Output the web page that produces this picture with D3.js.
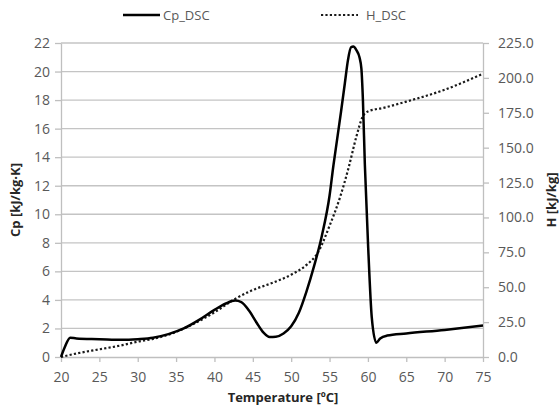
<!DOCTYPE html>
<html>
<head>
<meta charset="utf-8">
<script src="https://cdn.jsdelivr.net/npm/d3@7"></script>
<style>
  body { margin: 0; background: #fff; }
  svg text { font-family: "Open Sans", "Noto Sans", sans-serif; fill: #595959; }
  .axis-title { font-weight: bold; fill: #262626; }
</style>
</head>
<body>
<div id="chart"></div>
<script>
// temperature (ºC) and specific heat Cp (kJ/kg·K)
var cpTemp = [20, 20.5, 21.2, 22, 25, 28, 30, 32, 34, 36, 38, 40, 41.5, 42.7, 43.5, 44.5, 45.5, 46.4, 47.2, 48, 49, 50, 51, 52, 53, 54, 55, 55.5, 56, 56.5, 57, 57.4, 57.8, 58.1, 58.5, 58.9, 59.15, 59.35, 59.6, 60.05, 60.5, 61.1, 61.6, 62.5, 65, 70, 75];
var cpVals = [0, 0.7, 1.35, 1.3, 1.25, 1.2, 1.25, 1.35, 1.6, 2.0, 2.6, 3.3, 3.75, 3.95, 3.85, 3.25, 2.4, 1.7, 1.4, 1.42, 1.65, 2.15, 3.1, 4.6, 6.4, 8.5, 11.3, 13.4, 15.3, 17.2, 19.2, 20.8, 21.7, 21.75, 21.5, 21.0, 20.2, 18.0, 13.5, 7.5, 2.8, 1.0, 1.3, 1.5, 1.65, 1.9, 2.2];

// temperature (ºC) and enthalpy H (kJ/kg)
var hTemp = [20, 22, 25, 28, 30, 32, 35, 37, 40, 42.5, 45, 47.5, 50, 52, 53.5, 55, 56.4, 57.5, 58.5, 59.3, 60, 62, 65, 70, 75];
var hVals = [0, 2.5, 5.5, 8.5, 11, 13, 18, 23, 32, 41, 48, 53, 59, 66, 75, 94, 115, 136, 158, 172, 176, 178.5, 183, 191.5, 203];

var xTicks = [20, 25, 30, 35, 40, 45, 50, 55, 60, 65, 70, 75];
var cpTicks = [0, 2, 4, 6, 8, 10, 12, 14, 16, 18, 20, 22];
var hTicks = [0, 25, 50, 75, 100, 125, 150, 175, 200, 225];

var width = 559, height = 408;
var margin = { top: 43, right: 76, bottom: 51, left: 61 };
var w = width - margin.left - margin.right;
var h = height - margin.top - margin.bottom;

var svg = d3.select("#chart").append("svg")
    .attr("width", width)
    .attr("height", height);
var vis = svg.append("g")
    .attr("transform", "translate(" + margin.left + "," + margin.top + ")");

var x = d3.scaleLinear().domain([20, 75]).range([0, w]);
var yL = d3.scaleLinear().domain([0, 22]).range([h, 0]);
var yR = d3.scaleLinear().domain([0, 225]).range([h, 0]);

// gridlines
vis.append("g").selectAll("line")
    .data(cpTicks.slice(1))
    .enter().append("line")
    .attr("x1", 0).attr("x2", w)
    .attr("y1", function(d) { return yL(d); })
    .attr("y2", function(d) { return yL(d); })
    .attr("stroke", "#c4c4c4")
    .attr("stroke-width", 1.3);

function styleAxis(g) {
    g.selectAll("path, line").attr("stroke", "#bfbfbf").attr("stroke-width", 1.3);
    g.selectAll("text").style("font-size", "14px").attr("fill", "#595959");
}

var xAxis = vis.append("g")
    .attr("transform", "translate(0," + h + ")")
    .call(d3.axisBottom(x).tickValues(xTicks).tickSize(5).tickSizeOuter(0).tickPadding(10));
styleAxis(xAxis);

var leftAxis = vis.append("g")
    .call(d3.axisLeft(yL).tickValues(cpTicks).tickSize(6).tickSizeOuter(0).tickPadding(5));
styleAxis(leftAxis);

var rightAxis = vis.append("g")
    .attr("transform", "translate(" + w + ",0)")
    .call(d3.axisRight(yR).tickValues(hTicks).tickFormat(d3.format(".1f")).tickSize(6).tickSizeOuter(0).tickPadding(9));
styleAxis(rightAxis);

// series
var cpData = cpTemp.map(function(t, i) { return [t, cpVals[i]]; });
var hData = hTemp.map(function(t, i) { return [t, hVals[i]]; });

vis.append("path")
    .datum(hData)
    .attr("fill", "none")
    .attr("stroke", "#1a1a1a")
    .attr("stroke-width", 2.2)
    .attr("stroke-dasharray", "2.2,2.2")
    .attr("d", d3.line()
        .x(function(d) { return x(d[0]); })
        .y(function(d) { return yR(d[1]); })
        .curve(d3.curveMonotoneX));

vis.append("path")
    .datum(cpData)
    .attr("fill", "none")
    .attr("stroke", "#000")
    .attr("stroke-width", 2.5)
    .attr("stroke-linejoin", "round")
    .attr("d", d3.line()
        .x(function(d) { return x(d[0]); })
        .y(function(d) { return yL(d[1]); })
        .curve(d3.curveMonotoneX));

// axis titles
svg.append("text")
    .attr("class", "axis-title")
    .attr("x", 283)
    .attr("y", 402)
    .attr("text-anchor", "middle")
    .style("font-size", "13px")
    .text("Temperature [ºC]");

svg.append("text")
    .attr("class", "axis-title")
    .attr("transform", "translate(20," + (margin.top + h / 2) + ") rotate(-90)")
    .attr("text-anchor", "middle")
    .style("font-size", "13px")
    .text("Cp [kJ/kg·K]");

svg.append("text")
    .attr("class", "axis-title")
    .attr("transform", "translate(556," + (margin.top + h / 2) + ") rotate(-90)")
    .attr("text-anchor", "middle")
    .style("font-size", "13px")
    .text("H [kJ/kg]");

// legend
var legend = svg.append("g").attr("transform", "translate(0,15)");
legend.append("line")
    .attr("x1", 123).attr("x2", 160).attr("y1", 0).attr("y2", 0)
    .attr("stroke", "#000").attr("stroke-width", 2.5);
legend.append("text")
    .attr("x", 163).attr("y", 4.5)
    .style("font-size", "13px")
    .text("Cp_DSC");
legend.append("line")
    .attr("x1", 321).attr("x2", 358).attr("y1", 0).attr("y2", 0)
    .attr("stroke", "#1a1a1a").attr("stroke-width", 2.2)
    .attr("stroke-dasharray", "2.2,2.2");
legend.append("text")
    .attr("x", 366).attr("y", 4.5)
    .style("font-size", "13px")
    .text("H_DSC");
</script>
</body>
</html>
